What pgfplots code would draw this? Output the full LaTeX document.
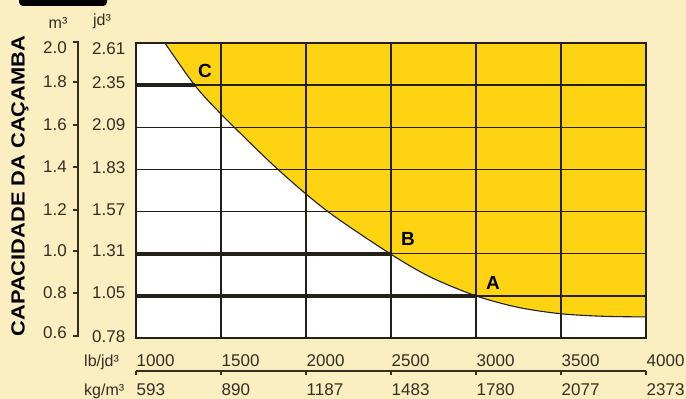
\documentclass[border=0pt]{standalone}
\usepackage{fontspec}
\setmainfont{Liberation Sans}
\usepackage{pgfplots}
\pgfplotsset{compat=1.18}
\usepackage{graphicx}
\definecolor{cream}{HTML}{FBEFC2}
\definecolor{gold}{HTML}{FDD312}
\definecolor{ink}{HTML}{332E20}
\definecolor{gridc}{HTML}{222019}
\pgfplotstableread{
x y
1170 2.000
1345 1.800
1506 1.658
1835 1.400
2129 1.200
2495 1.000
2730 0.890
3000 0.800
3250 0.745
3500 0.715
3750 0.703
4000 0.700
}\curvedata
\begin{document}
\begin{tikzpicture}
\fill[cream] (0pt,0pt) rectangle (686pt,399pt);
\fill[black] (19pt,399pt) [rounded corners=4pt] -- (19pt,393pt) -- (107pt,393pt) [sharp corners] -- (107pt,399pt) -- cycle;
\begin{axis}[at={(136pt,61pt)}, anchor=south west, scale only axis,
  width=510pt, height=295pt,
  xmin=1000, xmax=4000, ymin=0.6, ymax=2.0,
  xtick={1000,1500,2000,2500,3000,3500,4000},
  ytick={0.6,0.8,1.0,1.2,1.4,1.6,1.8,2.0},
  xticklabels={}, yticklabels={}, major tick length=0pt,
  grid=major, grid style={gridc, line width=1.5pt},
  axis line style={gridc, line width=1.6pt},
  axis background/.style={fill=white},
  axis on top, clip=false]
\addplot[fill=gold, draw=none, smooth] table {\curvedata} -- (axis cs:4000,2.0) -- cycle;
\addplot[gridc, line width=4pt] coordinates {(1000,1.8) (1345,1.8)};
\addplot[gridc, line width=4pt] coordinates {(1000,1.0) (2495,1.0)};
\addplot[gridc, line width=4pt] coordinates {(1000,0.8) (3000,0.8)};
\addplot[gridc, line width=1.1pt, smooth] table {\curvedata};
\node[font=\bfseries\fontsize{19}{19}\selectfont, text=black] at (axis cs:1406,1.867) {C};
\node[font=\bfseries\fontsize{19}{19}\selectfont, text=black] at (axis cs:2600,1.072) {B};
\node[font=\bfseries\fontsize{19}{19}\selectfont, text=black] at (axis cs:3100,0.863) {A};
\end{axis}
\begin{scope}[x=1pt,y=1pt]
\foreach \py/\t in {48/2.0, 82/1.8, 125/1.6, 167/1.4, 210/1.2, 251/1.0, 293/0.8, 333/0.6}
  \node[anchor=east, text=ink, font=\fontsize{17}{17}\selectfont, inner sep=0pt] at (67,{399-\py}) {\t};
\foreach \py/\t in {49/2.61, 82.5/2.35, 125/2.09, 167.5/1.83, 210/1.57, 251/1.31, 293/1.05, 337/0.78}
  \node[anchor=west, text=ink, font=\fontsize{17}{17}\selectfont, inner sep=0pt] at (92,{399-\py}) {\t};
\draw[ink, line width=1.4pt] (73,357) -- (78,357) -- (78,63) -- (73,63);
\foreach \py in {82,125,167,210,251,293}
  \draw[ink, line width=1.4pt] (73,{399-\py}) -- (78,{399-\py});
\node[text=ink, font=\fontsize{16}{16}\selectfont, inner sep=0pt] at (58,376.5) {m³};
\node[text=ink, font=\fontsize{16}{16}\selectfont, inner sep=0pt] at (102,378) {jd³};
\node[rotate=90, text=black, font=\bfseries\fontsize{19}{19}\selectfont, inner sep=0pt] at (20,213) {\scalebox{1.15}[1]{CAPACIDADE DA CAÇAMBA}};
\draw[ink, line width=1.3pt] (136,28) -- (646,28);
\foreach \i/\lb/\kg in {0/1000/593, 1/1500/890, 2/2000/1187, 3/2500/1483, 4/3000/1780, 5/3500/2077, 6/4000/2373}{
  \draw[ink, line width=1.3pt] ({136+85*\i},28) -- ({136+85*\i},24);
  \node[anchor=base west, text=ink, font=\fontsize{17}{17}\selectfont, inner sep=0pt] at ({136.5+85*\i},32) {\lb};
  \node[anchor=base west, text=ink, font=\fontsize{17}{17}\selectfont, inner sep=0pt] at ({136.5+85*\i},3.5) {\kg};
}
\node[anchor=base west, text=ink, font=\fontsize{16}{16}\selectfont, inner sep=0pt] at (84,32) {lb/jd³};
\node[anchor=base west, text=ink, font=\fontsize{16}{16}\selectfont, inner sep=0pt] at (84,3.5) {kg/m³};
\end{scope}
\end{tikzpicture}
\end{document}
